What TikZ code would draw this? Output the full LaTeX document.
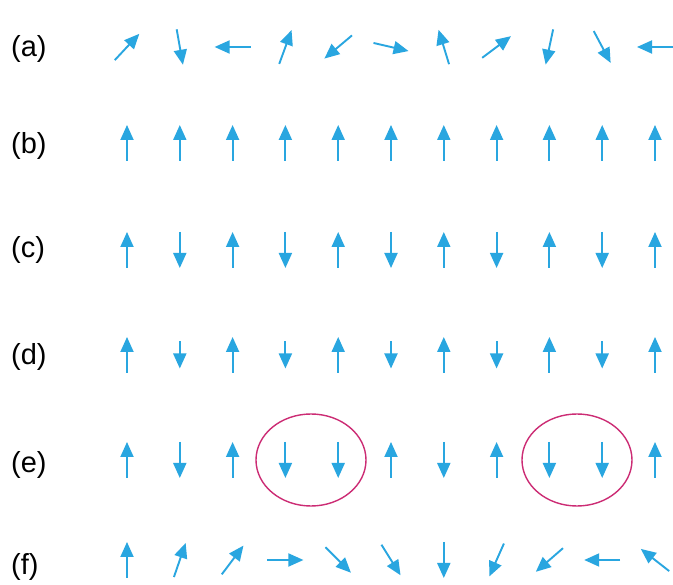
\documentclass[tikz,border=0pt]{standalone}
\usepackage{fontspec}
\setmainfont{Liberation Sans}
\usetikzlibrary{arrows.meta}
\definecolor{spinblue}{RGB}{41,166,224}
\definecolor{ringred}{RGB}{204,44,116}
\begin{document}
\begin{tikzpicture}[x=1pt,y=1pt,
  spin/.style={draw=spinblue, line width=1.9pt, -{Triangle[length=15pt,width=13pt]}},
  ring/.style={draw=ringred, line width=1.4pt},
  lbl/.style={font=\fontsize{29}{34}\selectfont, anchor=west, inner sep=0pt}]
\useasboundingbox[fill=white] (0,0) rectangle (673,-585);
% labels
\node[lbl] (la) at (11,-49) {(a)};
\node[lbl] (lb) at (11,-146) {(b)};
\node[lbl] (lc) at (11,-250) {(c)};
\node[lbl] (ld) at (11,-357) {(d)};
\node[lbl] (le) at (11,-465) {(e)};
\node[lbl] (lf) at (11,-567) {(f)};
% (a) random
\foreach \a [count=\i] in {47,-80,180,70,-140,-13,107,37,-102,-62,180}{
  \pgfmathsetmacro\xx{127+52.8*(\i-1)}
  \draw[spin] (\xx,-47) ++(\a+180:18) -- ++(\a:36);
}
% (b) ferromagnet
\foreach \i in {1,...,11}{
  \pgfmathsetmacro\xx{127+52.8*(\i-1)}
  \draw[spin] (\xx,-143) ++(0,-18) -- ++(0,36);
}
% (c) antiferromagnet
\foreach \a [count=\i] in {90,-90,90,-90,90,-90,90,-90,90,-90,90}{
  \pgfmathsetmacro\xx{127+52.8*(\i-1)}
  \draw[spin] (\xx,-250) ++(\a+180:18) -- ++(\a:36);
}
% (d) ferrimagnet
\foreach \a/\l [count=\i] in {90/36,-90/27,90/36,-90/27,90/36,-90/27,90/36,-90/27,90/36,-90/27,90/36}{
  \pgfmathsetmacro\xx{127+52.8*(\i-1)}
  \draw[spin] (\xx,-355) ++(\a+180:\l/2) -- ++(\a:\l);
}
% (e) frustrated
\foreach \a [count=\i] in {90,-90,90,-90,-90,90,-90,90,-90,-90,90}{
  \pgfmathsetmacro\xx{127+52.8*(\i-1)}
  \draw[spin] (\xx,-460) ++(\a+180:18) -- ++(\a:36);
}
\draw[ring] (311,-460) ellipse [x radius=55, y radius=46];
\draw[ring] (577,-460) ellipse [x radius=55, y radius=46];
% (f) spiral
\foreach \a [count=\i] in {90,71,53,0,-45,-58,-90,-114,-139,180,142}{
  \pgfmathsetmacro\xx{127+52.8*(\i-1)}
  \draw[spin] (\xx,-560) ++(\a+180:18) -- ++(\a:36);
}
\end{tikzpicture}
\end{document}
